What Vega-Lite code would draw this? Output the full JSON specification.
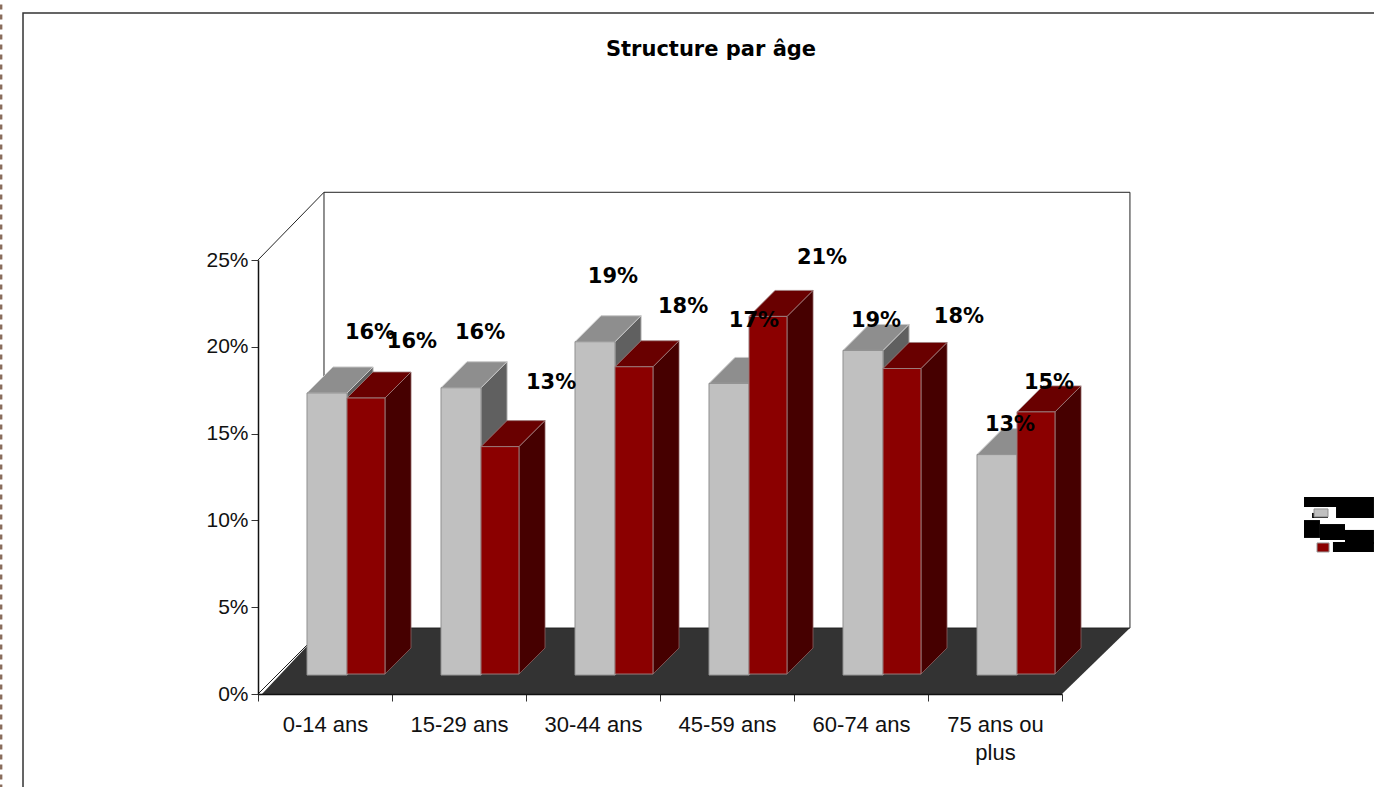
{
"$schema":"https://vega.github.io/schema/vega-lite/v6.json",
"width":804,"height":434,
"autosize":{"type":"none"},
"padding":{"left":258,"top":260,"right":312,"bottom":93},
"background":"white",
"config":{"view":{"stroke":null}},
"title":{"text":"Structure par âge","font":"DejaVu Sans","fontSize":21,"fontWeight":"bold","color":"black","anchor":"middle","dx":51,"offset":-65},
"resolve":{"axis":{"x":"independent","y":"independent"}},
"data":{"values":[
{"cat":"0-14 ans","i":0,"series":"A","value":16.25,"shown":"16%","labelX":0.836,"labelY":20.85},
{"cat":"15-29 ans","i":1,"series":"A","value":16.55,"shown":"16%","labelX":1.657,"labelY":20.85},
{"cat":"30-44 ans","i":2,"series":"A","value":19.2,"shown":"19%","labelX":2.649,"labelY":24.08},
{"cat":"45-59 ans","i":3,"series":"A","value":16.8,"shown":"17%","labelX":3.701,"labelY":21.54},
{"cat":"60-74 ans","i":4,"series":"A","value":18.7,"shown":"19%","labelX":4.612,"labelY":21.54},
{"cat":"75 ans ou plus","i":5,"series":"A","value":12.7,"shown":"13%","labelX":5.612,"labelY":15.55},
{"cat":"0-14 ans","i":0,"series":"B","value":15.9,"shown":"16%","labelX":1.149,"labelY":20.33},
{"cat":"15-29 ans","i":1,"series":"B","value":13.1,"shown":"13%","labelX":2.187,"labelY":17.97},
{"cat":"30-44 ans","i":2,"series":"B","value":17.7,"shown":"18%","labelX":3.172,"labelY":22.35},
{"cat":"45-59 ans","i":3,"series":"B","value":20.6,"shown":"21%","labelX":4.209,"labelY":25.17},
{"cat":"60-74 ans","i":4,"series":"B","value":17.6,"shown":"18%","labelX":5.231,"labelY":21.77},
{"cat":"75 ans ou plus","i":5,"series":"B","value":15.1,"shown":"15%","labelX":5.903,"labelY":17.97}
]},
"layer":[
{"data":{"values":[{"a":0.03,"b":6,"h":0},{"a":0.4925,"b":6.507,"h":3.8}]},
 "mark":{"type":"area","orient":"horizontal","color":"#333333"},
 "encoding":{
  "y":{"field":"h","type":"quantitative","scale":{"domain":[0,25],"nice":false},"axis":{"orient":"left","values":[0,5,10,15,20,25],"labelExpr":"datum.value+'%'","title":null,"grid":false,"domainColor":"#111","domainWidth":1.5,"tickColor":"#333","tickSize":7,"labelPadding":3,"labelFont":"Liberation Sans","labelFontSize":21,"labelColor":"#111","zindex":1}},
  "x":{"field":"a","type":"quantitative","scale":{"domain":[0,6],"nice":false},"axis":{"orient":"bottom","values":[0,1,2,3,4,5,6],"labels":false,"title":null,"grid":false,"domainColor":"#111","domainWidth":1.5,"tickColor":"#333","tickSize":7,"zindex":1}},
  "x2":{"field":"b"}}},
{"data":{"values":[{"t":0.5}]},
 "mark":{"type":"rule","opacity":0},
 "encoding":{"x":{"field":"t","type":"quantitative","axis":{"orient":"bottom","values":[0.5,1.5,2.5,3.5,4.5,5.5],"labelExpr":"['0-14 ans','15-29 ans','30-44 ans','45-59 ans','60-74 ans',['75 ans ou','plus']][floor(datum.value)]","title":null,"grid":false,"domain":false,"ticks":false,"labelPadding":20,"labelAngle":0,"labelFont":"Liberation Sans","labelFontSize":22,"labelColor":"#111","labelLineHeight":28,"labelOverlap":false,"labelFlush":false}}}},
{"data":{"values":[
 {"p":"w","s":0,"x":0,"y":25},{"p":"w","s":1,"x":0.4925,"y":28.9},{"p":"w","s":2,"x":6.507,"y":28.9},{"p":"w","s":3,"x":6.507,"y":3.8},{"p":"w","s":4,"x":0.4925,"y":3.8},{"p":"w","s":5,"x":0.4925,"y":28.9},
 {"p":"d","s":0,"x":0,"y":0},{"p":"d","s":1,"x":0.4925,"y":3.8}
 ]},
 "mark":{"type":"line","color":"#222","strokeWidth":1},
 "encoding":{"x":{"field":"x","type":"quantitative","axis":null},"y":{"field":"y","type":"quantitative","axis":null},"detail":{"field":"p"},"order":{"field":"s"}}},
{"data":{"values":[{"s":0,"x":-1.7537,"y":-5.5},{"s":1,"x":-1.7537,"y":39.23},{"s":2,"x":8.33,"y":39.23}]},
 "mark":{"type":"line","color":"#333","strokeWidth":1.5},
 "encoding":{"x":{"field":"x","type":"quantitative","axis":null},"y":{"field":"y","type":"quantitative","axis":null},"order":{"field":"s"}}},
{"data":{"values":[{"s":0,"x":-1.917,"y":-5.5},{"s":1,"x":-1.917,"y":40}]},
 "mark":{"type":"line","color":"#8a6d5c","strokeWidth":2.5,"strokeDash":[5,5]},
 "encoding":{"x":{"field":"x","type":"quantitative","axis":null},"y":{"field":"y","type":"quantitative","axis":null},"order":{"field":"s"}}},
{"transform":[{"filter":"datum.series=='A'"},
 {"calculate":"datum.i+0.3657","as":"left"},{"calculate":"datum.i+0.6642","as":"right"},{"calculate":"1.09+datum.value","as":"top"},{"calculate":"[0,1]","as":"edge"},{"flatten":["edge"]},
 {"calculate":"datum.right+datum.edge*0.194","as":"sx"},{"calculate":"datum.top+datum.edge*1.498","as":"sy"},{"calculate":"1.09+datum.edge*1.498","as":"sy2"},
 {"calculate":"datum.left+datum.edge*0.194","as":"tx"},{"calculate":"datum.right+datum.edge*0.194","as":"tx2"}],
 "layer":[
 {"mark":{"type":"area","color":"#606060","stroke":"#a8a8a8","strokeWidth":1},
  "encoding":{"x":{"field":"sx","type":"quantitative","axis":null},"y":{"field":"sy","type":"quantitative","axis":null},"y2":{"field":"sy2"},"detail":{"field":"cat"}}},
 {"mark":{"type":"area","orient":"horizontal","color":"#8e8e8e","stroke":"#c8c8c8","strokeWidth":1},
  "encoding":{"y":{"field":"sy","type":"quantitative","axis":null},"x":{"field":"tx","type":"quantitative","axis":null},"x2":{"field":"tx2"},"detail":{"field":"cat"}}},
 {"transform":[{"filter":"datum.edge==0"}],"mark":{"type":"rect","color":"#c0c0c0","stroke":"#8f8f8f","strokeWidth":1},
  "encoding":{"x":{"field":"left","type":"quantitative","axis":null},"x2":{"field":"right"},"y":{"field":"top","type":"quantitative","axis":null},"y2":{"datum":1.09}}}
 ]},
{"transform":[{"filter":"datum.series=='B'"},
 {"calculate":"datum.i+0.6642","as":"left"},{"calculate":"datum.i+0.9478","as":"right"},{"calculate":"1.15+datum.value","as":"top"},{"calculate":"[0,1]","as":"edge"},{"flatten":["edge"]},
 {"calculate":"datum.right+datum.edge*0.194","as":"sx"},{"calculate":"datum.top+datum.edge*1.498","as":"sy"},{"calculate":"1.15+datum.edge*1.498","as":"sy2"},
 {"calculate":"datum.left+datum.edge*0.194","as":"tx"},{"calculate":"datum.right+datum.edge*0.194","as":"tx2"}],
 "layer":[
 {"mark":{"type":"area","color":"#460000","stroke":"#8a6060","strokeWidth":0.8},
  "encoding":{"x":{"field":"sx","type":"quantitative","axis":null},"y":{"field":"sy","type":"quantitative","axis":null},"y2":{"field":"sy2"},"detail":{"field":"cat"}}},
 {"mark":{"type":"area","orient":"horizontal","color":"#690000","stroke":"#a08080","strokeWidth":0.8},
  "encoding":{"y":{"field":"sy","type":"quantitative","axis":null},"x":{"field":"tx","type":"quantitative","axis":null},"x2":{"field":"tx2"},"detail":{"field":"cat"}}},
 {"transform":[{"filter":"datum.edge==0"}],"mark":{"type":"rect","color":"#8b0000","stroke":"#9a7a7a","strokeWidth":1},
  "encoding":{"x":{"field":"left","type":"quantitative","axis":null},"x2":{"field":"right"},"y":{"field":"top","type":"quantitative","axis":null},"y2":{"datum":1.15}}}
 ]},
{"mark":{"type":"text","font":"DejaVu Sans","fontWeight":"bold","fontSize":21,"color":"black","align":"center","baseline":"middle","dy":1},
 "encoding":{"x":{"field":"labelX","type":"quantitative","axis":null},"y":{"field":"labelY","type":"quantitative","axis":null},"text":{"field":"shown"}}},
{"data":{"values":[
 {"x":7.806,"x2":8.328,"y":11.35,"y2":10.77},
 {"x":8.045,"x2":8.328,"y":10.77,"y2":10.14},
 {"x":7.866,"x2":7.985,"y":10.43,"y2":10.14},
 {"x":7.806,"x2":7.925,"y":10.02,"y2":8.99},
 {"x":7.925,"x2":8.112,"y":9.79,"y2":8.87},
 {"x":8.112,"x2":8.328,"y":9.45,"y2":8.64},
 {"x":8.022,"x2":8.328,"y":8.76,"y2":8.18}
 ]},
 "mark":{"type":"rect","color":"black"},
 "encoding":{"x":{"field":"x","type":"quantitative","axis":null},"x2":{"field":"x2"},"y":{"field":"y","type":"quantitative","axis":null},"y2":{"field":"y2"}}},
{"data":{"values":[{"x":7.881,"x2":7.985,"y":10.66,"y2":10.20}]},
 "mark":{"type":"rect","color":"#c0c0c0","stroke":"#8f8f8f"},
 "encoding":{"x":{"field":"x","type":"quantitative","axis":null},"x2":{"field":"x2"},"y":{"field":"y","type":"quantitative","axis":null},"y2":{"field":"y2"}}},
{"data":{"values":[{"x":7.903,"x2":7.993,"y":8.70,"y2":8.18}]},
 "mark":{"type":"rect","color":"#8b0000","stroke":"#9a9a9a"},
 "encoding":{"x":{"field":"x","type":"quantitative","axis":null},"x2":{"field":"x2"},"y":{"field":"y","type":"quantitative","axis":null},"y2":{"field":"y2"}}}
]
}
